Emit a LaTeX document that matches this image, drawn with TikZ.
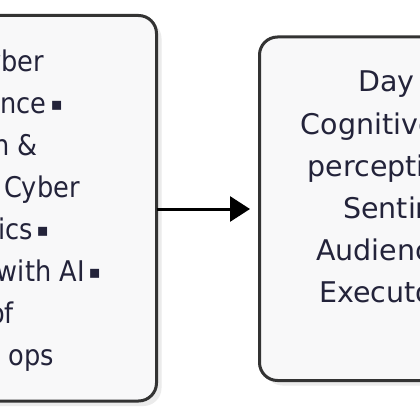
\documentclass[tikz,border=0pt]{standalone}
\usepackage{fontspec}
\setmainfont{DejaVu Sans}
\newfontfamily\symfont{DejaVu Sans}
\newfontfamily\narrowfont[FakeStretch=0.9]{DejaVu Sans}
\usetikzlibrary{arrows.meta,shadows}
\definecolor{boxfill}{HTML}{F8F8F9}
\definecolor{boxline}{HTML}{333333}
\definecolor{txt}{HTML}{23233A}
\definecolor{shade}{HTML}{EBEBEB}
\newcommand{\sqmark}{\kern4pt\raisebox{2.5pt}{\symfont\fontsize{18}{42}\selectfont ▪}}
\tikzset{
  card/.style={draw=boxline, line width=3pt, fill=boxfill, rounded corners=18pt,
    drop shadow={shadow xshift=5pt, shadow yshift=-5pt, fill=shade, opacity=1}},
  lbl/.style={font=\fontsize{28.5}{42}\selectfont, text=txt, inner sep=0pt},
  lbln/.style={font=\narrowfont\fontsize{28.5}{42}\selectfont, text=txt, inner sep=0pt},
  flow/.style={line width=3pt, -{Triangle[length=20pt,width=25pt]}, shorten >=8pt}
}
\begin{document}
\begin{tikzpicture}[x=1pt,y=-1pt]
\useasboundingbox[fill=white] (0,0) rectangle (420,420);
\node[card, minimum width=356.5pt, minimum height=385.5pt] (L) at (-21.75,208.25) {};
\node[card, minimum width=360.5pt, minimum height=343.5pt] (R) at (439.75,208.75) {};
\coordinate (a) at (156.5,209);
\draw[flow] (a) -- (a -| R.west);
% left box text (cut at left edge)
\node[lbln, anchor=base east] (l1) at (44,71) {Cyber};
\node[lbln, anchor=base east] (l2) at (63,113) {Intelligence\sqmark};
\node[lbln, anchor=base east] (l3) at (38,155) {Integration \&};
\node[lbln, anchor=base east] (l4) at (80,197) {in Cyber};
\node[lbln, anchor=base east] (l5) at (49,239) {Analytics\sqmark};
\node[lbln, anchor=base east] (l6) at (101,281) {with AI\sqmark};
\node[lbln, anchor=base east] (l7) at (14,323) {of};
\node[lbln, anchor=base east] (l8) at (54,365) {ops};
% right box text (cut at right edge)
\node[lbl, anchor=base west] (r1) at (358,92) {Day};
\node[lbl, anchor=base west] (r2) at (300.5,134) {Cognitive};
\node[lbl, anchor=base west] (r3) at (307.5,176) {perception};
\node[lbl, anchor=base west] (r4) at (343,218) {Sentiment};
\node[lbl, anchor=base west] (r5) at (316,260) {Audience};
\node[lbl, anchor=base west] (r6) at (319,302) {Executor};
\end{tikzpicture}
\end{document}
